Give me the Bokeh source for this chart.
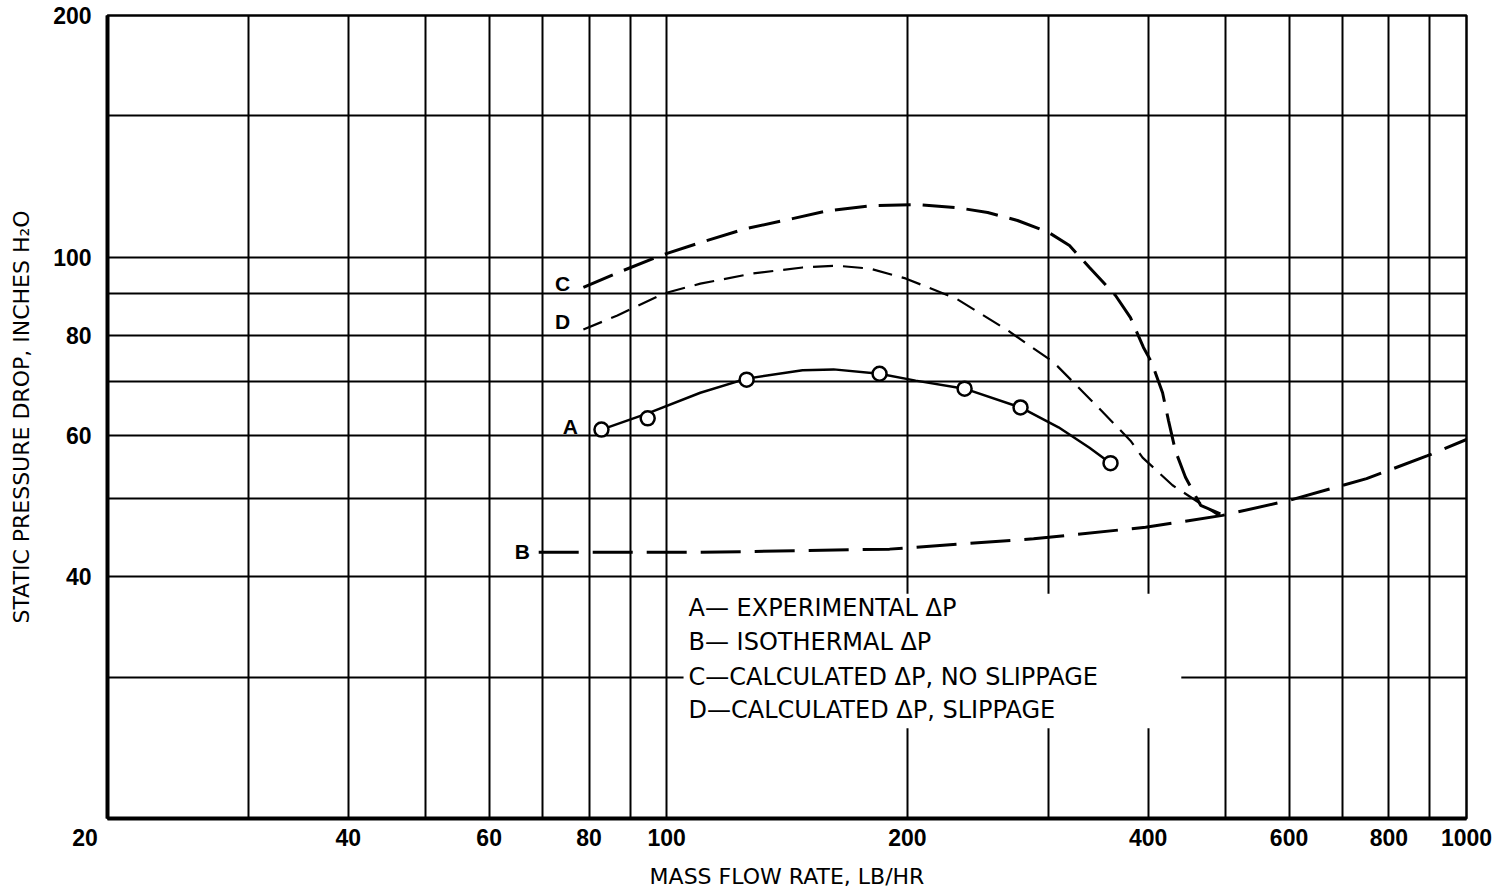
from bokeh.plotting import figure
from bokeh.models import Range1d, FixedTicker, Label, BoxAnnotation
from bokeh.embed import file_html
from bokeh.resources import INLINE

# ---- tick / grid values ----
x_ticks = [20, 40, 60, 80, 100, 200, 400, 600, 800, 1000]
y_ticks = [40, 60, 80, 100, 200]
x_grid = [30, 40, 50, 60, 70, 80, 90, 100, 200, 300, 400, 500, 600, 700, 800, 900]
y_grid = [30, 40, 50, 60, 70, 80, 90, 100, 150]

# ---- A: experimental points and faired curve ----
a_pts_x = [82.9, 94.7, 125.9, 184.6, 235.8, 277.0, 358.9]
a_pts_y = [61.0, 63.0, 70.4, 71.6, 68.6, 65.0, 55.4]
a_line_x = [82.9, 94.7, 110.2, 125.9, 147.9, 161.7, 184.6, 204.8, 235.8, 277.0, 309.0, 337.8, 358.9]
a_line_y = [61.0, 63.9, 67.8, 70.6, 72.3, 72.5, 71.6, 70.2, 68.6, 65.0, 61.4, 57.9, 55.4]

# ---- B: isothermal ----
b_x = [69.2, 110.2, 190.0, 287.6, 397.0, 495.5, 600.8, 750.0, 894.0, 1000.0]
b_y = [42.9, 42.9, 43.3, 44.6, 46.1, 47.7, 49.8, 53.0, 56.6, 59.3]

# ---- C: calculated, no slippage ----
c_x = [78.7, 86.3, 98.3, 110.2, 125.9, 143.7, 159.3, 182.0, 204.8, 230.3, 252.0, 274.6,
       300.2, 318.9, 337.8, 364.1, 380.1, 394.6, 403.9, 416.9, 424.1, 432.6, 445.3, 465.2, 496.9]
c_y = [91.7, 95.4, 100.5, 104.3, 108.6, 111.7, 114.3, 116.0, 116.3, 115.3, 113.7, 111.1,
       107.4, 103.4, 97.1, 89.6, 84.1, 77.2, 74.0, 67.8, 62.6, 57.4, 53.2, 49.1, 47.7]

# ---- D: calculated, slippage ----
d_x = [78.7, 86.8, 99.1, 110.2, 127.7, 147.9, 163.0, 179.4, 198.9, 230.3, 266.8, 304.6,
       342.8, 380.1, 393.6, 429.0, 489.8]
d_y = [81.3, 84.6, 90.1, 92.7, 95.4, 97.1, 97.6, 96.8, 94.1, 88.8, 81.1, 74.0,
       65.7, 59.1, 56.3, 52.0, 47.7]

legend_lines = ["A— EXPERIMENTAL ΔP", "B— ISOTHERMAL ΔP",
                "C—CALCULATED ΔP, NO SLIPPAGE", "D—CALCULATED ΔP, SLIPPAGE"]
legend_y = [36.6, 33.2, 30.0, 27.3]
legend_x = 106.5

curve_labels = ["C", "D", "A", "B"]
curve_label_x = [74.1, 74.1, 75.8, 66.0]
curve_label_y = [92.8, 83.2, 61.5, 43.0]

NBSP = "\u00a0"

p = figure(x_axis_type="log", y_axis_type="log",
           x_range=Range1d(20, 1000), y_range=Range1d(20, 200),
           frame_width=1359, frame_height=803,
           min_border_left=107, min_border_right=26, min_border_top=15, min_border_bottom=60,
           output_backend="svg", toolbar_location=None,
           background_fill_color="white", border_fill_color="white")

p.outline_line_color = "black"
p.outline_line_width = 2.5

# grid
p.xgrid.ticker = FixedTicker(ticks=x_grid)
p.ygrid.ticker = FixedTicker(ticks=y_grid)
for g in (p.xgrid, p.ygrid):
    g.grid_line_color = "black"
    g.grid_line_width = 2
    g.grid_line_alpha = 1.0
    g.minor_grid_line_color = None

# white patch behind the legend text (grid is broken there)
p.add_layout(BoxAnnotation(left=105, right=440, bottom=25.9, top=38.1,
                           fill_color="white", fill_alpha=1.0, line_color=None,
                           level="glyph"))

# axes
p.xaxis.ticker = FixedTicker(ticks=x_ticks)
p.yaxis.ticker = FixedTicker(ticks=y_ticks)
# leftmost x label sits left of the corner in the original
p.xaxis.major_label_overrides = {x_ticks[0]: str(x_ticks[0]) + NBSP * 7}
for ax in (p.xaxis, p.yaxis):
    ax.major_tick_line_color = None
    ax.minor_tick_line_color = None
    ax.axis_line_color = "black"
    ax.axis_line_width = 4
    ax.major_label_text_font = "Liberation Sans"
    ax.major_label_text_font_style = "bold"
    ax.major_label_text_font_size = "23px"
    ax.major_label_text_color = "black"
    ax.axis_label_text_font = "DejaVu Sans"
    ax.axis_label_text_font_style = "normal"
    ax.axis_label_text_font_size = "22px"
    ax.axis_label_text_color = "black"

p.xaxis.axis_label = "MASS FLOW RATE, LB/HR"
p.yaxis.axis_label = "STATIC PRESSURE DROP, INCHES H₂O"
p.xaxis.major_label_standoff = 0
p.xaxis.axis_label_standoff = 10
p.yaxis.major_label_standoff = 10
p.yaxis.axis_label_standoff = 16

# curves
p.line(b_x, b_y, line_color="black", line_width=3, line_dash="40 14")
p.line(c_x, c_y, line_color="black", line_width=3, line_dash="32 12")
p.line(d_x, d_y, line_color="black", line_width=2.2, line_dash="20 10")
p.line(a_line_x, a_line_y, line_color="black", line_width=2.5)
p.scatter(a_pts_x, a_pts_y, marker="circle", size=14, fill_color="white",
          line_color="black", line_width=2.5)

# curve letters
for t, x, y in zip(curve_labels, curve_label_x, curve_label_y):
    p.add_layout(Label(x=x, y=y, text=t, text_align="center", text_baseline="middle",
                       text_font="Liberation Sans", text_font_style="bold",
                       text_font_size="21px", text_color="black"))

# legend text
for t, y in zip(legend_lines, legend_y):
    p.add_layout(Label(x=legend_x, y=y, text=t, text_align="left", text_baseline="middle",
                       text_font="DejaVu Sans", text_font_size="24px",
                       text_color="black"))

open("out.html", "w").write(file_html(p, INLINE))
